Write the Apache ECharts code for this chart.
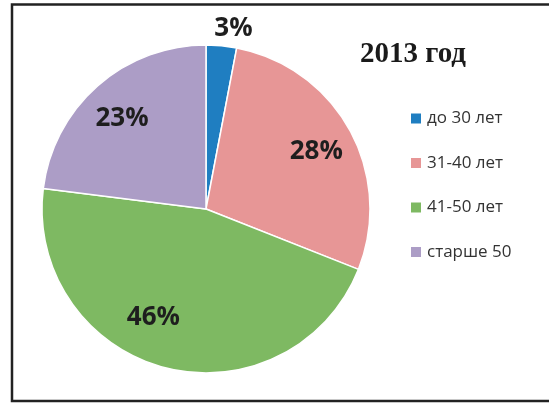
<!DOCTYPE html>
<html>
<head>
<meta charset="utf-8">
<script src="https://cdn.jsdelivr.net/npm/echarts@6/dist/echarts.min.js"></script>
<style>html,body{margin:0;padding:0;background:#fff;}#c{width:549px;height:404px;}</style>
</head>
<body>
<div id="c"></div>
<script>
var categories = ['до 30 лет', '31-40 лет', '41-50 лет', 'старше 50'];
var values = [3, 28, 46, 23];
var colors = ['#1F7EC1', '#E79696', '#7EB962', '#AC9DC6'];
var labelOffsets = [[10, 4], [-1, 4], [-21, -14], [0, 5]];
var titleText = '2013 год';

var chart = echarts.init(document.getElementById('c'), null, {renderer: 'canvas'});
var center = [206, 209];

var mainData = categories.map(function (c, i) {
  return { name: c, value: values[i], itemStyle: { color: colors[i] } };
});
var labelStyle = { color: '#1e1e1e', fontFamily: 'Open Sans', fontWeight: 'bold', fontSize: 26 };
var innerLabelData = categories.map(function (c, i) {
  return {
    name: c, value: values[i],
    label: { show: i !== 0, offset: labelOffsets[i] }
  };
});
var outerLabelData = categories.map(function (c, i) {
  return {
    name: c, value: values[i],
    label: { show: i === 0, offset: labelOffsets[i] }
  };
});

chart.setOption({
  animation: false,
  backgroundColor: '#fff',
  title: {
    text: titleText,
    left: 413, top: 55,
    padding: 0,
    textAlign: 'center', textVerticalAlign: 'middle',
    textStyle: { fontFamily: 'Liberation Serif', fontWeight: 'bold', fontSize: 29, color: '#1a1a1a' }
  },
  legend: {
    orient: 'vertical',
    left: 409, top: 110,
    padding: 0,
    itemWidth: 12, itemHeight: 12,
    itemGap: 27.5,
    icon: 'rect',
    data: categories,
    textStyle: { fontFamily: 'Open Sans', fontSize: 17, color: '#333' }
  },
  graphic: [{
    type: 'rect',
    shape: { x: 12, y: 4.5, width: 600, height: 396.5 },
    style: { fill: 'none', stroke: '#222', lineWidth: 2.5 },
    z: 100
  }],
  series: [{
    type: 'pie',
    center: center,
    radius: [0, 164],
    startAngle: 90,
    clockwise: true,
    silent: true,
    label: { show: false },
    labelLine: { show: false },
    itemStyle: { borderColor: '#fff', borderWidth: 1.5 },
    data: mainData
  }, {
    type: 'pie',
    center: center,
    radius: [84, 164],
    startAngle: 90,
    clockwise: true,
    silent: true,
    legendHoverLink: false,
    itemStyle: { color: 'rgba(0,0,0,0)' },
    label: Object.assign({ position: 'inside', formatter: '{c}%' }, labelStyle),
    labelLine: { show: false },
    data: innerLabelData
  }, {
    type: 'pie',
    center: center,
    radius: [164, 200],
    startAngle: 90,
    clockwise: true,
    silent: true,
    legendHoverLink: false,
    itemStyle: { color: 'rgba(0,0,0,0)' },
    label: Object.assign({ position: 'inside', formatter: '{c}%' }, labelStyle),
    labelLine: { show: false },
    data: outerLabelData
  }]
});
</script>
</body>
</html>
